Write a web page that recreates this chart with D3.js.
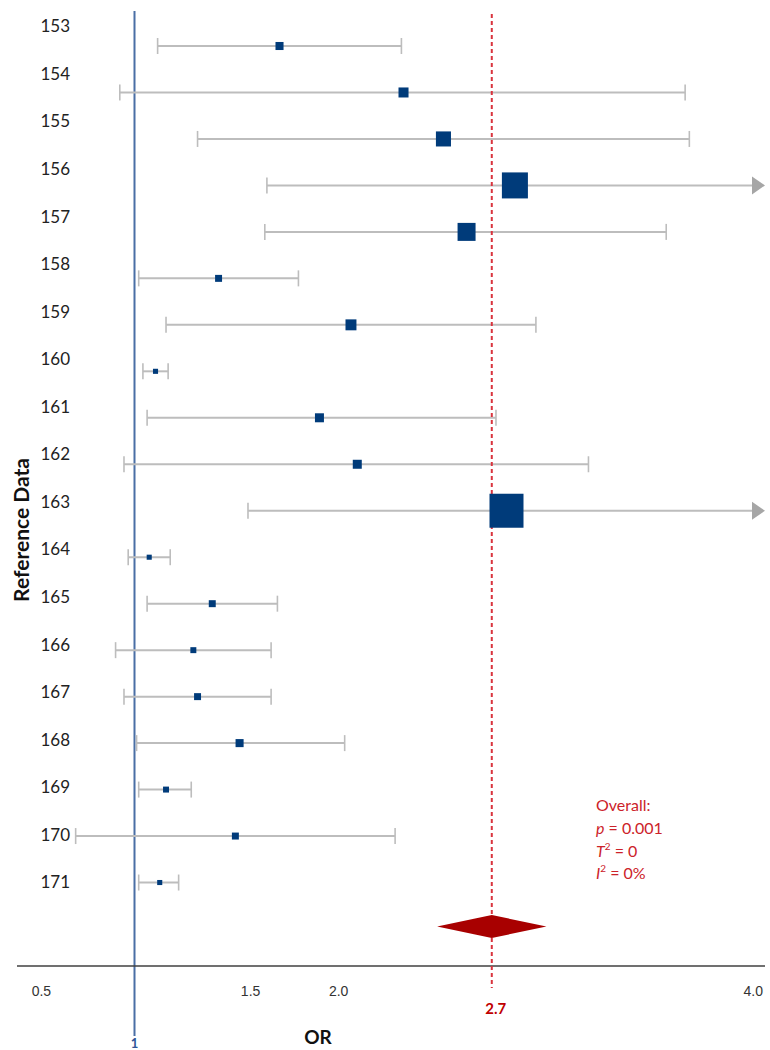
<!DOCTYPE html>
<html>
<head>
<meta charset="utf-8">
<script src="https://cdn.jsdelivr.net/npm/d3@7"></script>
<style>
  html, body { margin: 0; padding: 0; background: #fff; }
  svg { display: block; font-family: Lato, "Liberation Sans", sans-serif; }
</style>
</head>
<body>
<svg id="chart" width="770" height="1050"></svg>
<script>
// ---- data ----
const studies = ["153","154","155","156","157","158","159","160","161","162","163","164","165","166","167","168","169","170","171"];
const orValues = [1.69, 2.28, 2.47, 2.81, 2.58, 1.40, 2.03, 1.10, 1.88, 2.06, 2.77, 1.07, 1.37, 1.28, 1.30, 1.50, 1.15, 1.48, 1.12];
const ciLower  = [1.11, 0.93, 1.30, 1.63, 1.62, 1.02, 1.15, 1.04, 1.06, 0.95, 1.54, 0.97, 1.06, 0.91, 0.95, 1.01, 1.02, 0.72, 1.02];
const ciUpper  = [2.27, 3.62, 3.64, 4.50, 3.53, 1.78, 2.91, 1.16, 2.72, 3.16, 4.50, 1.17, 1.68, 1.65, 1.65, 2.00, 1.27, 2.24, 1.21];
const weights  = [2.0, 3.1, 7.0, 20.9, 10.0, 1.5, 3.7, 0.8, 2.5, 2.5, 35.7, 0.8, 1.5, 1.1, 1.5, 2.0, 1.1, 1.5, 0.8];
const overall = { or: 2.7, lower: 2.44, upper: 2.96 };
const xTickLabels = ["0.5", "1.5", "2.0", "4.0"];
const xTickValues = [0.5, 1.5, 2.0, 4.0];
const statsLines = [
  [{t:"Overall:"}],
  [{t:"p", i:true}, {t:" = 0.001"}],
  [{t:"T", i:true}, {t:"2", sup:true}, {t:" = 0"}],
  [{t:"I", i:true}, {t:"2", sup:true}, {t:" = 0%"}]
];

// ---- scales ----
const svg = d3.select("#chart");
const x = d3.scaleLinear().domain([1, 4]).range([134.5, 765]);
const xMin = 17, xMax = 765;
const y = d3.scalePoint().domain([...studies, "Overall"]).range([46, 929]);
const yLab = d3.scalePoint().domain(studies).range([28, 884]);
const size = d3.scaleSqrt().domain([0, d3.max(weights)]).range([0, 34]);
const axisY = 966;

const rows = studies.map((s, i) => ({ s, or: orValues[i], lo: ciLower[i], hi: ciUpper[i], w: weights[i] }));

// ---- reference line at 1 ----
svg.append("line")
  .attr("x1", x(1)).attr("x2", x(1)).attr("y1", 11).attr("y2", 1036)
  .attr("stroke", "#4a6fa5").attr("stroke-width", 2);

// ---- axis ----
const axis = d3.axisBottom(x).tickValues([]).tickSize(0);
const gAxis = svg.append("g").attr("transform", `translate(0,${axisY})`).call(axis);
gAxis.select(".domain").remove();
gAxis.append("line").attr("x1", xMin).attr("x2", xMax).attr("stroke", "#404040").attr("stroke-width", 1.3);
gAxis.selectAll(".tlab").data(xTickValues).enter().append("text")
  .attr("class", "tlab")
  .attr("x", d => x(d) + (d === 0.5 ? 12 : d === 1.5 ? 11 : d === 2.0 ? -6 : -2))
  .attr("y", 26)
  .attr("text-anchor", d => d === 4.0 ? "end" : "middle")
  .attr("dominant-baseline", "middle")
  .attr("font-size", 14).attr("fill", "#333")
  .text((d, i) => xTickLabels[i]);

// ---- CI lines ----
const ciColor = "#bdbdbd";
const gRows = svg.append("g");
rows.forEach(r => {
  const yy = y(r.s);
  const arrow = r.hi > x.domain()[1];
  const xr = arrow ? x(x.domain()[1]) - 12 : x(r.hi);
  gRows.append("line").attr("x1", x(r.lo)).attr("x2", xr).attr("y1", yy).attr("y2", yy)
    .attr("stroke", ciColor).attr("stroke-width", 2);
  gRows.append("line").attr("x1", x(r.lo)).attr("x2", x(r.lo)).attr("y1", yy - 8).attr("y2", yy + 8)
    .attr("stroke", ciColor).attr("stroke-width", 1.6);
  if (arrow) {
    const xe = x(x.domain()[1]);
    gRows.append("path").attr("d", `M${xe - 13},${yy - 9} L${xe},${yy} L${xe - 13},${yy + 9} Z`)
      .attr("fill", "#a6a6a6");
  } else {
    gRows.append("line").attr("x1", x(r.hi)).attr("x2", x(r.hi)).attr("y1", yy - 8).attr("y2", yy + 8)
      .attr("stroke", ciColor).attr("stroke-width", 1.6);
  }
});

// ---- red dashed overall line ----
svg.append("line")
  .attr("x1", x(overall.or)).attr("x2", x(overall.or)).attr("y1", 14).attr("y2", 988)
  .attr("stroke", "#d9343e").attr("stroke-width", 2).attr("stroke-dasharray", "4,3");

// ---- squares ----
rows.forEach(r => {
  const s = size(r.w);
  svg.append("rect").attr("x", x(r.or) - s / 2).attr("y", y(r.s) - s / 2)
    .attr("width", s).attr("height", s).attr("fill", "#003b7a");
});

// ---- diamond ----
const yd = y("Overall") - 2.5;
svg.append("path")
  .attr("d", `M${x(overall.lower)},${yd} L${x(overall.or)},${yd - 11.5} L${x(overall.upper)},${yd} L${x(overall.or)},${yd + 11.5} Z`)
  .attr("fill", "#a80000");

// ---- row labels ----
svg.append("g").selectAll("text").data(studies).enter().append("text")
  .attr("x", 70).attr("y", d => yLab(d))
  .attr("text-anchor", "end").attr("dominant-baseline", "middle")
  .attr("font-size", 17).attr("fill", "#222")
  .text(d => d);

// ---- axis titles ----
svg.append("text").attr("transform", "translate(24,530) rotate(-90)")
  .attr("text-anchor", "middle").attr("dominant-baseline", "middle")
  .attr("font-size", 21).attr("font-weight", "bold").attr("fill", "#111")
  .text("Reference Data");
svg.append("text").attr("x", 318).attr("y", 1039)
  .attr("text-anchor", "middle").attr("dominant-baseline", "middle")
  .attr("font-size", 19).attr("font-weight", "bold").attr("fill", "#111")
  .text("OR");
svg.append("text").attr("x", x(1)).attr("y", 1045)
  .attr("text-anchor", "middle").attr("dominant-baseline", "middle")
  .attr("font-size", 13).attr("font-weight", "bold").attr("fill", "#2f5597")
  .text("1");
svg.append("text").attr("x", x(overall.or) + 4).attr("y", 1010)
  .attr("text-anchor", "middle").attr("dominant-baseline", "middle")
  .attr("font-size", 15).attr("font-weight", "bold").attr("fill", "#c00000")
  .text("2.7");

// ---- stats ----
const gStats = svg.append("g");
statsLines.forEach((line, i) => {
  const t = gStats.append("text").attr("x", 596).attr("y", 807 + i * 22.8)
    .attr("dominant-baseline", "middle").attr("font-size", 16).attr("fill", "#cc2229");
  line.forEach(p => {
    const ts = t.append("tspan").text(p.t);
    if (p.i) ts.attr("font-style", "italic");
    if (p.sup) ts.attr("font-size", 10).attr("dy", -6);
    else if (line.some(q => q.sup) && p.t.startsWith(" ")) ts.attr("dy", 6);
  });
});
</script>
</body>
</html>
